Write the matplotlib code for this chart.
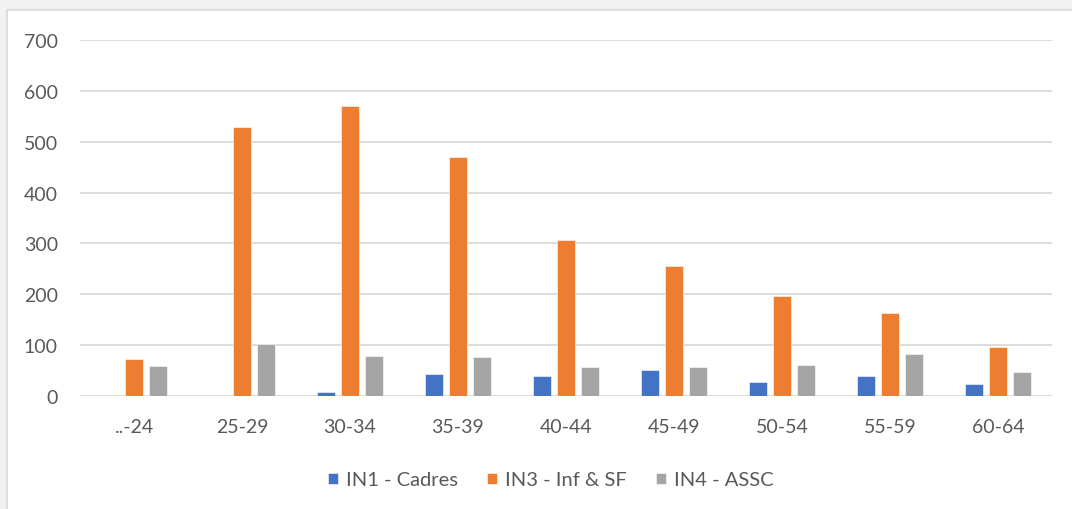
import numpy as np
import matplotlib
matplotlib.use("Agg")
import matplotlib.pyplot as plt
from matplotlib.patches import Rectangle

plt.rcParams['font.family'] = ['Lato', 'DejaVu Sans']

categories = ["..-24", "25-29", "30-34", "35-39", "40-44", "45-49", "50-54", "55-59", "60-64"]
series_names = ["IN1 - Cadres", "IN3 - Inf & SF", "IN4 - ASSC"]
in1_cadres = [0, 0, 7, 43, 40, 51, 28, 40, 23]
in3_inf_sf = [72, 528, 571, 470, 307, 255, 197, 164, 97]
in4_assc = [59, 102, 79, 76, 58, 58, 61, 83, 48]
y_ticks = [0, 100, 200, 300, 400, 500, 600, 700]

colors = ["#4472C4", "#ED7D31", "#A5A5A5"]
text_color = "#595959"
grid_color = "#D9D9D9"

W, H = 1072, 510
fig = plt.figure(figsize=(W / 100, H / 100), dpi=100)
fig.patch.set_facecolor("#F2F2F2")

# white chart panel with a thin border, kept behind the axes
panel = Rectangle((7 / W, -0.05), 1.1, 1 - 11 / H + 0.05, transform=fig.transFigure,
                  facecolor="white", edgecolor="#D9D9D9", linewidth=1.2, zorder=-10)
fig.patches.append(panel)

ax = fig.add_axes([80 / W, 1 - 397 / H, (1052 - 80) / W, (397 - 41) / H])
ax.set_facecolor("none")
ax.set_zorder(1)

x = np.arange(len(categories))
step = 0.222
width = 0.17
series = [in1_cadres, in3_inf_sf, in4_assc]
for i, (vals, name, c) in enumerate(zip(series, series_names, colors)):
    ax.bar(x + (i - 1) * step, vals, width=width, color=c, label=name,
           edgecolor="white", linewidth=0.4, zorder=3)

ax.set_xlim(-0.5, len(categories) - 0.5)
ax.set_ylim(0, 700)
ax.set_yticks(y_ticks)
ax.set_xticks(x)
ax.set_xticklabels(categories)
ax.yaxis.grid(True, color=grid_color, linewidth=1.3, zorder=0)
ax.set_axisbelow(True)
for s in ax.spines.values():
    s.set_visible(False)
ax.tick_params(axis="both", length=0, labelsize=14, colors=text_color)
ax.tick_params(axis="y", pad=16)
ax.tick_params(axis="x", pad=16)

leg = fig.legend(loc="center", bbox_to_anchor=(551 / W, 1 - 481 / H), ncol=3,
                 frameon=False, fontsize=14.5, handlelength=0.5, handleheight=0.5,
                 handletextpad=0.4, columnspacing=1.45)
for t in leg.get_texts():
    t.set_color(text_color)

fig.savefig("out.png", dpi=100, facecolor=fig.get_facecolor())
